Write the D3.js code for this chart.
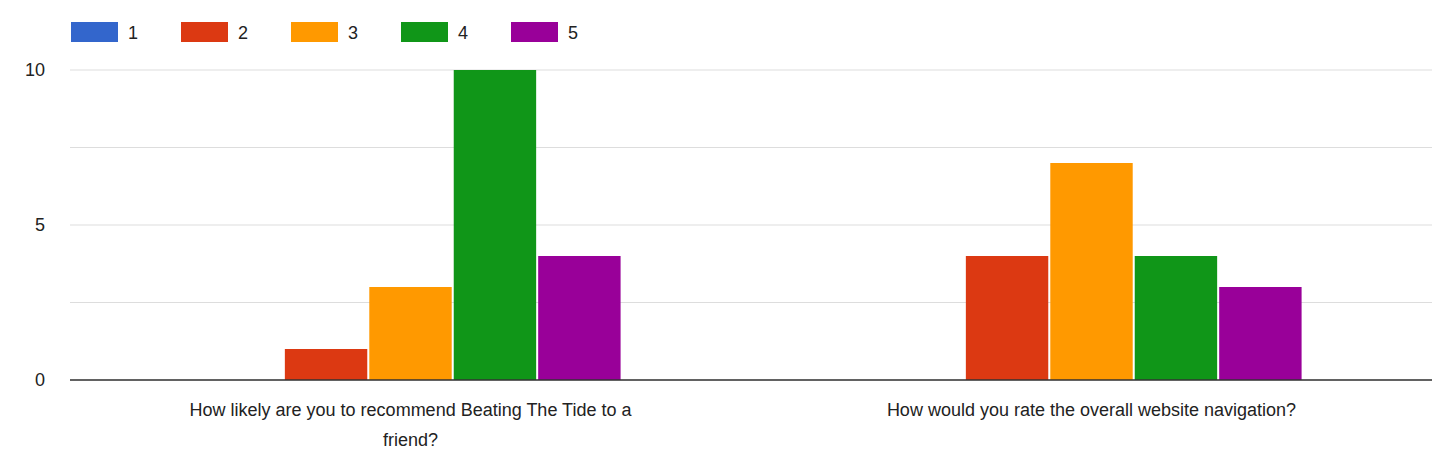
<!DOCTYPE html>
<html><head><meta charset="utf-8">
<script src="https://cdn.jsdelivr.net/npm/d3@7"></script>
<style>body{margin:0;background:#fff}text{font-family:"Liberation Sans",Arial,sans-serif;fill:#222}</style>
</head><body><svg width="1442" height="460"></svg>
<script>
const categories = [
  ["How likely are you to recommend Beating The Tide to a", "friend?"],
  ["How would you rate the overall website navigation?"]
];
const seriesNames = ["1", "2", "3", "4", "5"];
const colors = ["#3366cc", "#dc3912", "#ff9900", "#109618", "#990099"];
const values = [
  [0, 1, 3, 10, 4],
  [0, 4, 7, 4, 3]
];
const yTicks = [0, 5, 10];
const gridTicks = [0, 2.5, 5, 7.5, 10];

const svg = d3.select("svg");
const plotLeft = 70, plotRight = 1432, plotTop = 70, plotBottom = 380;

const x0 = d3.scaleBand().domain(d3.range(categories.length)).range([plotLeft, plotRight])
  .paddingInner(0.383).paddingOuter(0.1915);
const x1 = d3.scaleBand().domain(seriesNames).range([0, x0.bandwidth()]).paddingInner(0.024);
const y = d3.scaleLinear().domain([0, 10]).range([plotBottom, plotTop]);

svg.append("g").selectAll("line").data(gridTicks).enter().append("line")
  .attr("x1", plotLeft).attr("x2", plotRight)
  .attr("y1", d => y(d)).attr("y2", d => y(d))
  .attr("stroke", "#ddd").attr("stroke-width", 1);

svg.append("g").selectAll("text").data(yTicks).enter().append("text")
  .attr("x", 45).attr("y", d => y(d) + 6).attr("text-anchor", "end")
  .attr("font-size", 18).text(d => d);

const groups = svg.append("g").selectAll("g").data(values).enter().append("g")
  .attr("transform", (d, i) => "translate(" + x0(i) + ",0)");
groups.selectAll("rect").data(d => d.map((v, j) => ({v, j}))).enter().append("rect")
  .attr("x", d => x1(seriesNames[d.j])).attr("width", x1.bandwidth())
  .attr("y", d => y(d.v)).attr("height", d => y(0) - y(d.v))
  .attr("fill", d => colors[d.j]);

svg.append("line").attr("x1", plotLeft).attr("x2", plotRight).attr("y1", plotBottom).attr("y2", plotBottom)
  .attr("stroke", "#333").attr("stroke-width", 1.5);

categories.forEach((lines, i) => {
  const cx = x0(i) + x0.bandwidth() / 2;
  lines.forEach((t, k) => {
    svg.append("text").attr("x", cx).attr("y", 416 + k * 30).attr("text-anchor", "middle")
      .attr("font-size", 18).text(t);
  });
});

const legend = svg.append("g").selectAll("g").data(seriesNames).enter().append("g")
  .attr("transform", (d, i) => "translate(" + (71 + i * 110) + ",22)");
legend.append("rect").attr("width", 47).attr("height", 20).attr("fill", (d, i) => colors[i]);
legend.append("text").attr("x", 57).attr("y", 17).attr("font-size", 18).text(d => d);
</script></body></html>
